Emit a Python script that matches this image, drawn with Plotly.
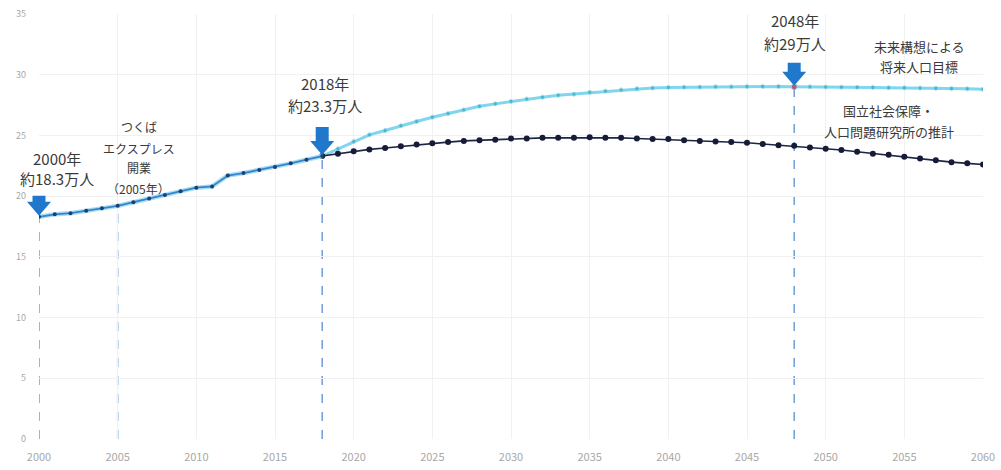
import plotly.graph_objects as go

# ---- data (万人) ----
years_actual = list(range(2000, 2019))
pop_actual = [18.3, 18.5, 18.6, 18.8, 19.0, 19.2, 19.5, 19.8, 20.1, 20.4,
              20.7, 20.8, 21.7, 21.9, 22.15, 22.4, 22.7, 23.0, 23.3]

years_proj = list(range(2018, 2061))
pop_target = [23.3, 23.9, 24.5, 25.05, 25.4, 25.8, 26.15, 26.5, 26.8, 27.1,
              27.4, 27.6, 27.8, 28.0, 28.15, 28.3, 28.4, 28.55, 28.65, 28.75,
              28.85, 28.9, 28.95, 28.97, 28.98, 29.0, 29.0, 29.02, 29.03, 29.03,
              29.0, 29.0, 28.98, 28.97, 28.96, 28.95, 28.93, 28.92, 28.9, 28.88,
              28.86, 28.84, 28.8]
pop_ipss = [23.3, 23.5, 23.7, 23.85, 23.97, 24.1, 24.25, 24.35, 24.45, 24.55,
            24.6, 24.65, 24.75, 24.75, 24.8, 24.8, 24.8, 24.85, 24.8, 24.8,
            24.75, 24.7, 24.7, 24.6, 24.55, 24.5, 24.45, 24.4, 24.3, 24.2,
            24.15, 24.0, 23.9, 23.8, 23.65, 23.5, 23.4, 23.25, 23.1, 22.95,
            22.8, 22.7, 22.6]

x_range = [2000, 2060]
y_range = [0, 35]
x_ticks = list(range(2000, 2061, 5))
y_ticks = list(range(0, 36, 5))

event_years = [2000, 2005, 2018, 2048]
arrow_years = [2000, 2018, 2048]
arrow_shaft = {2000: 6, 2018: 14, 2048: 9}
highlight_year = 2048

FONT = "Noto Sans CJK JP"


def value_at(y):
    if y in years_actual:
        return pop_actual[years_actual.index(y)]
    return pop_target[years_proj.index(y)]


def xfrac(v):
    return (v - x_range[0]) / (x_range[1] - x_range[0])


def yfrac(v):
    return (v - y_range[0]) / (y_range[1] - y_range[0])


fig = go.Figure()

# target line (light cyan)
fig.add_trace(go.Scatter(
    x=years_proj, y=pop_target, mode="lines+markers",
    line=dict(color="#7fd6ee", width=3),
    marker=dict(color=["#d02050" if yy == highlight_year else "#3ba3b8" for yy in years_proj],
                size=[6 if yy == highlight_year else 4 for yy in years_proj]),
    hoverinfo="skip", showlegend=False))

# IPSS line (navy)
fig.add_trace(go.Scatter(
    x=years_proj, y=pop_ipss, mode="lines+markers",
    line=dict(color="#1c2544", width=1.6),
    marker=dict(color="#141c38", size=6),
    hoverinfo="skip", showlegend=False))

# actual line (blue with pale halo)
fig.add_trace(go.Scatter(
    x=years_actual, y=pop_actual, mode="lines",
    line=dict(color="#a9ddf3", width=4.5),
    hoverinfo="skip", showlegend=False))
fig.add_trace(go.Scatter(
    x=years_actual, y=pop_actual, mode="lines+markers",
    line=dict(color="#3385cc", width=1.8),
    marker=dict(color="#1d3f72", size=4),
    hoverinfo="skip", showlegend=False))

shapes = []
for yr in event_years:
    shapes.append(dict(type="line", xref="x", yref="y", x0=yr, x1=yr, y0=0, y1=value_at(yr),
                       line=dict(color="#6f9fd8", width=1.5, dash="dash"), layer="below"))

for yr in arrow_years:
    s = arrow_shaft[yr]
    h0 = 1
    h1 = h0 + 14
    path = (f"M 0 {h0} L -12 {h1} L -6.5 {h1} L -6.5 {h1 + s} "
            f"L 6.5 {h1 + s} L 6.5 {h1} L 12 {h1} Z")
    shapes.append(dict(type="path", xref="paper", yref="paper", xsizemode="pixel", ysizemode="pixel",
                       xanchor=xfrac(yr), yanchor=yfrac(value_at(yr)), path=path,
                       fillcolor="#1f78cc", line=dict(width=0)))

texts = [
    ("2000年", 2001.15, 23.1, 15),
    ("約18.3万人", 2001.15, 21.45, 15),
    ("つくば", 2006.35, 25.7, 12),
    ("エクスプレス", 2006.35, 23.95, 12),
    ("開業", 2006.35, 22.35, 12),
    ("（2005年）", 2006.35, 20.65, 12),
    ("2018年", 2018.2, 29.3, 15),
    ("約23.3万人", 2018.2, 27.5, 15),
    ("2048年", 2048.05, 34.5, 15),
    ("約29万人", 2048.05, 32.6, 15),
    ("未来構想による", 2055.95, 32.35, 13),
    ("将来人口目標", 2055.95, 30.7, 13),
    ("国立社会保障・", 2054.0, 27.05, 13),
    ("人口問題研究所の推計", 2054.0, 25.3, 13),
]
annotations = [dict(text=t, x=x, y=y, xref="x", yref="y", showarrow=False,
                    font=dict(family=FONT, size=s, color="#3a3a3a"),
                    xanchor="center", yanchor="middle")
               for t, x, y, s in texts]

fig.update_layout(
    width=1001, height=470,
    margin=dict(l=39, r=18, t=14, b=31, autoexpand=False),
    paper_bgcolor="white", plot_bgcolor="white",
    font=dict(family=FONT),
    shapes=shapes, annotations=annotations,
    xaxis=dict(range=x_range, tickvals=x_ticks, ticktext=[str(v) for v in x_ticks],
               showgrid=True, gridcolor="#f1f1f1", gridwidth=1, zeroline=False,
               showline=False, tickfont=dict(size=11, color="#a8a8a8"),
               ticklabelstandoff=10, automargin=False),
    yaxis=dict(range=y_range, tickvals=y_ticks, ticktext=[str(v) for v in y_ticks],
               showgrid=True, gridcolor="#f1f1f1", gridwidth=1, zeroline=False,
               showline=False, tickfont=dict(size=9, color="#a8a8a8"),
               ticklabelstandoff=12, automargin=False),
)

fig.write_html("out.html")
